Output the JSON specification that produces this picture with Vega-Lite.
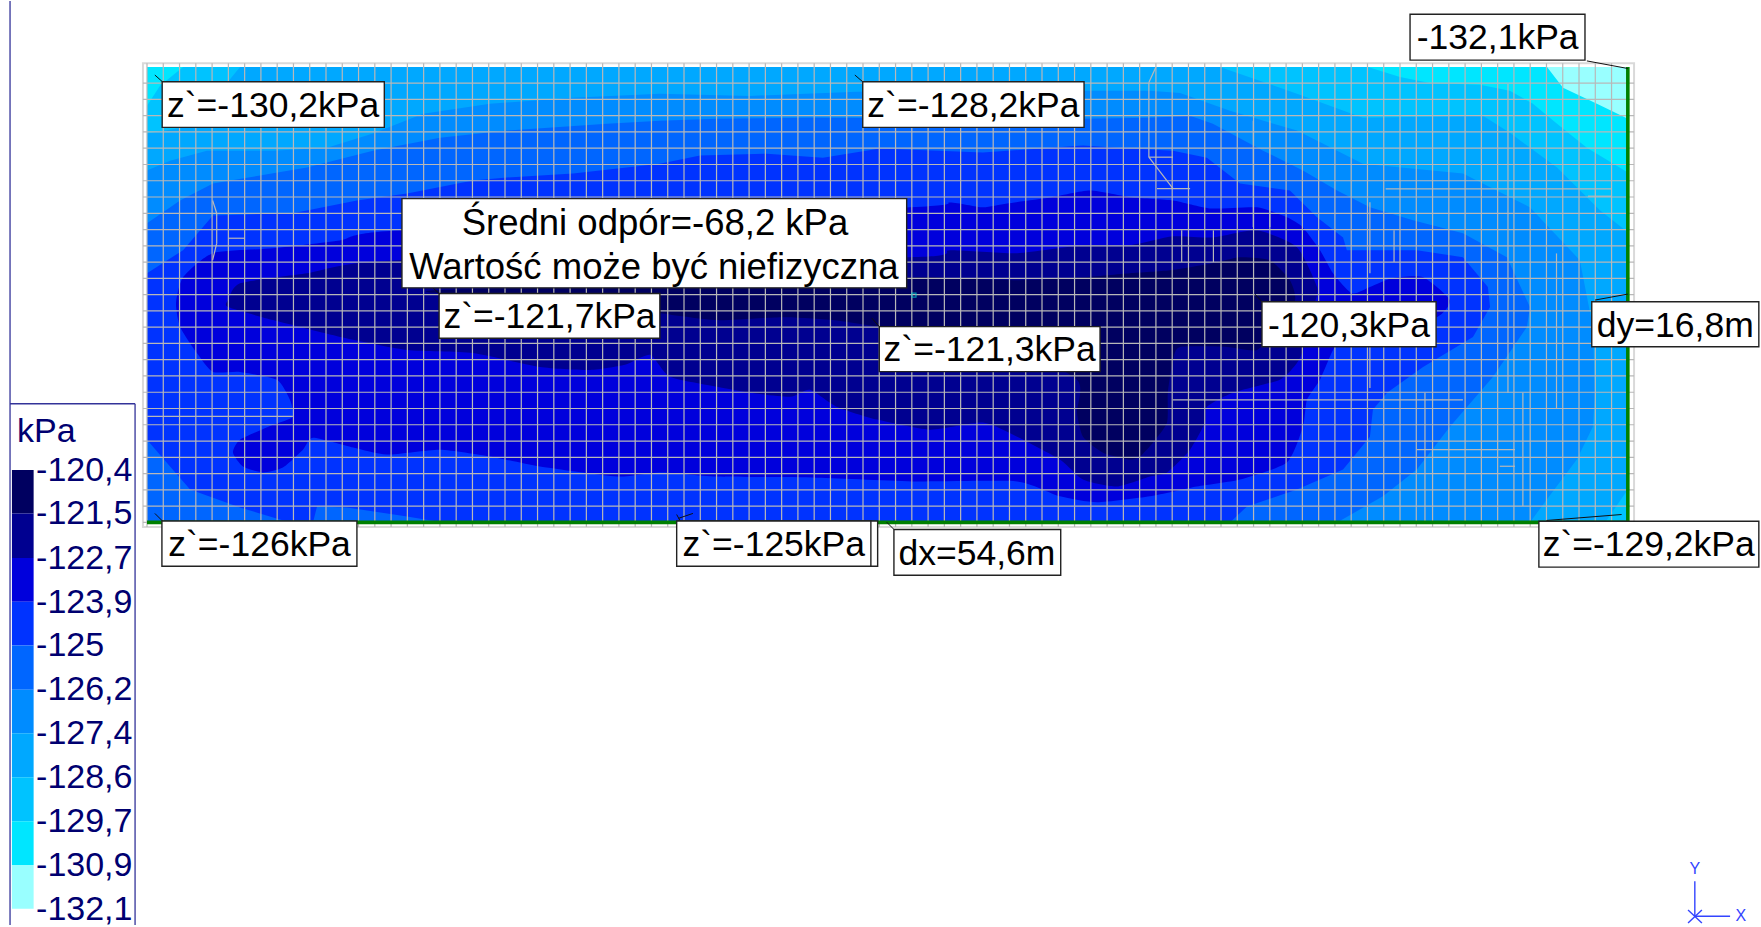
{
"$schema":"https://vega.github.io/schema/vega-lite/v6.json",
"width":1761,"height":927,"padding":0,
"autosize":{"type":"fit","contains":"padding"},
"background":"white",
"config":{"view":{"stroke":null}},
"datasets":{
"bands":[
{"band":"9","x":0,"y":0},{"band":"9","x":54.6,"y":0},{"band":"9","x":54.6,"y":16.8},{"band":"9","x":0,"y":16.8},
{"band":"8","x":0,"y":15.37},{"band":"8","x":0.48,"y":16.1},{"band":"8","x":1.33,"y":16.8},{"band":"8","x":45.02,"y":16.8},{"band":"8","x":46.2,"y":16.43},{"band":"8","x":47.3,"y":16.21},{"band":"8","x":49.15,"y":16.14},{"band":"8","x":50.25,"y":15.92},{"band":"8","x":51.1,"y":15.44},{"band":"8","x":51.99,"y":14.7},{"band":"8","x":53.09,"y":13.82},{"band":"8","x":54.6,"y":12.9},{"band":"8","x":54.6,"y":0},{"band":"8","x":0,"y":0},
{"band":"10","x":51.62,"y":16.8},{"band":"10","x":52.21,"y":16.03},{"band":"10","x":53.46,"y":15.44},{"band":"10","x":54.6,"y":14.89},{"band":"10","x":54.6,"y":16.8},
{"band":"7","x":0,"y":14.34},{"band":"7","x":1.33,"y":14.56},{"band":"7","x":2.32,"y":15.44},{"band":"7","x":3.43,"y":16.8},{"band":"7","x":39.56,"y":16.8},{"band":"7","x":42.4,"y":15.81},{"band":"7","x":44.83,"y":14.92},{"band":"7","x":49.26,"y":15},{"band":"7","x":50.25,"y":14.37},{"band":"7","x":51.99,"y":13.09},{"band":"7","x":53.57,"y":11.51},{"band":"7","x":54.6,"y":10.7},{"band":"7","x":54.6,"y":1.21},{"band":"7","x":53.76,"y":0},{"band":"7","x":0,"y":0},
{"band":"6","x":0,"y":12.98},{"band":"6","x":0.85,"y":13.34},{"band":"6","x":2.21,"y":13.71},{"band":"6","x":4.65,"y":13.71},{"band":"6","x":6.64,"y":13.82},{"band":"6","x":8.33,"y":14.34},{"band":"6","x":10.18,"y":15.07},{"band":"6","x":12.65,"y":15.44},{"band":"6","x":15.71,"y":15.66},{"band":"6","x":18.91,"y":15.81},{"band":"6","x":22.23,"y":15.73},{"band":"6","x":26.18,"y":15.88},{"band":"6","x":34.51,"y":15.92},{"band":"6","x":36.98,"y":15.92},{"band":"6","x":38.09,"y":15.84},{"band":"6","x":39.93,"y":15.18},{"band":"6","x":42.4,"y":14.45},{"band":"6","x":44.83,"y":13.23},{"band":"6","x":48.52,"y":12.87},{"band":"6","x":50.99,"y":11.62},{"band":"6","x":52.83,"y":9.67},{"band":"6","x":53.31,"y":7.21},{"band":"6","x":53.39,"y":4.78},{"band":"6","x":53.31,"y":3.53},{"band":"6","x":52.72,"y":2.32},{"band":"6","x":51.62,"y":0.85},{"band":"6","x":50.99,"y":0},{"band":"6","x":0,"y":0},
{"band":"5","x":0,"y":11.03},{"band":"5","x":1.22,"y":11.87},{"band":"5","x":2.43,"y":12.5},{"band":"5","x":5.9,"y":13.09},{"band":"5","x":8.33,"y":13.71},{"band":"5","x":10.8,"y":14.19},{"band":"5","x":13.27,"y":14.45},{"band":"5","x":16.96,"y":14.7},{"band":"5","x":18.91,"y":14.81},{"band":"5","x":21.02,"y":14.89},{"band":"5","x":24.44,"y":14.92},{"band":"5","x":34.51,"y":14.89},{"band":"5","x":36.98,"y":14.92},{"band":"5","x":38.46,"y":15},{"band":"5","x":39.3,"y":14.7},{"band":"5","x":41.15,"y":13.71},{"band":"5","x":42.62,"y":12.98},{"band":"5","x":43.88,"y":12.24},{"band":"5","x":45.09,"y":11.62},{"band":"5","x":46.68,"y":11.14},{"band":"5","x":48.52,"y":10.66},{"band":"5","x":50.14,"y":9.78},{"band":"5","x":50.99,"y":7.94},{"band":"5","x":50.88,"y":7.21},{"band":"5","x":49.63,"y":5.37},{"band":"5","x":48.04,"y":3.53},{"band":"5","x":46.82,"y":1.95},{"band":"5","x":45.57,"y":0.96},{"band":"5","x":43.88,"y":0},{"band":"5","x":0,"y":0},
{"band":"4","x":0,"y":9.19},{"band":"4","x":1.33,"y":10.04},{"band":"4","x":2.43,"y":11.32},{"band":"4","x":5.38,"y":11.4},{"band":"4","x":7.74,"y":11.87},{"band":"4","x":9.59,"y":12.13},{"band":"4","x":12.02,"y":12.61},{"band":"4","x":13.27,"y":12.72},{"band":"4","x":15.71,"y":12.87},{"band":"4","x":18.91,"y":13.23},{"band":"4","x":20.39,"y":13.53},{"band":"4","x":22.86,"y":13.6},{"band":"4","x":24.92,"y":13.45},{"band":"4","x":27.03,"y":13.79},{"band":"4","x":30.82,"y":13.64},{"band":"4","x":34.51,"y":13.9},{"band":"4","x":35.76,"y":13.82},{"band":"4","x":37.83,"y":13.71},{"band":"4","x":39.08,"y":13.45},{"band":"4","x":40.3,"y":12.5},{"band":"4","x":42.14,"y":12.24},{"band":"4","x":43.14,"y":11.25},{"band":"4","x":44.1,"y":10.51},{"band":"4","x":44.24,"y":10.04},{"band":"4","x":46.82,"y":10.04},{"band":"4","x":48.52,"y":9.78},{"band":"4","x":49.44,"y":8.68},{"band":"4","x":49.52,"y":7.94},{"band":"4","x":48.89,"y":6.84},{"band":"4","x":47.05,"y":5.73},{"band":"4","x":45.72,"y":4.78},{"band":"4","x":45.2,"y":4.15},{"band":"4","x":45.09,"y":3.16},{"band":"4","x":44.1,"y":1.95},{"band":"4","x":42.4,"y":1.21},{"band":"4","x":40.56,"y":0.59},{"band":"4","x":39.93,"y":0},{"band":"4","x":10.91,"y":0},{"band":"4","x":9.59,"y":0.22},{"band":"4","x":7.37,"y":0.55},{"band":"4","x":6.27,"y":0.59},{"band":"4","x":6.12,"y":0},{"band":"4","x":5.27,"y":0},{"band":"4","x":3.43,"y":0.55},{"band":"4","x":1.59,"y":1.21},{"band":"4","x":0.85,"y":2.06},{"band":"4","x":0,"y":3.05},
{"band":"3","x":1.33,"y":9.04},{"band":"3","x":1.07,"y":8.09},{"band":"3","x":1.22,"y":7.21},{"band":"3","x":1.84,"y":6.25},{"band":"3","x":2.43,"y":5.55},{"band":"3","x":3.43,"y":5.55},{"band":"3","x":4.79,"y":5.26},{"band":"3","x":5.27,"y":4.52},{"band":"3","x":5.38,"y":3.9},{"band":"3","x":4.65,"y":3.6},{"band":"3","x":3.43,"y":3.05},{"band":"3","x":3.17,"y":2.57},{"band":"3","x":3.54,"y":2.06},{"band":"3","x":4.28,"y":1.84},{"band":"3","x":5.01,"y":2.02},{"band":"3","x":5.75,"y":2.68},{"band":"3","x":6.12,"y":3.12},{"band":"3","x":7.6,"y":2.76},{"band":"3","x":8.85,"y":2.5},{"band":"3","x":10.8,"y":2.68},{"band":"3","x":12.65,"y":2.43},{"band":"3","x":14.49,"y":2.06},{"band":"3","x":17.33,"y":1.69},{"band":"3","x":18.91,"y":1.84},{"band":"3","x":21.02,"y":1.69},{"band":"3","x":24.7,"y":1.65},{"band":"3","x":28.39,"y":1.51},{"band":"3","x":32.08,"y":1.51},{"band":"3","x":33.66,"y":0.96},{"band":"3","x":35.03,"y":0.74},{"band":"3","x":36.98,"y":0.96},{"band":"3","x":38.71,"y":1.32},{"band":"3","x":40.3,"y":1.58},{"band":"3","x":42.03,"y":2.21},{"band":"3","x":42.62,"y":3.53},{"band":"3","x":42.77,"y":4.52},{"band":"3","x":43.25,"y":5.26},{"band":"3","x":43.73,"y":6.36},{"band":"3","x":44.1,"y":6.73},{"band":"3","x":45.72,"y":7.21},{"band":"3","x":47.56,"y":7.57},{"band":"3","x":48.04,"y":8.2},{"band":"3","x":47.05,"y":9.04},{"band":"3","x":45.94,"y":9.01},{"band":"3","x":45.09,"y":8.68},{"band":"3","x":44.43,"y":8.45},{"band":"3","x":43.73,"y":9.19},{"band":"3","x":43.25,"y":10.04},{"band":"3","x":42.62,"y":10.88},{"band":"3","x":42.03,"y":11.25},{"band":"3","x":40.93,"y":11.62},{"band":"3","x":39.19,"y":11.58},{"band":"3","x":37.83,"y":11.87},{"band":"3","x":36.35,"y":11.98},{"band":"3","x":34.77,"y":12.24},{"band":"3","x":33.29,"y":11.98},{"band":"3","x":31.71,"y":11.76},{"band":"3","x":30.82,"y":11.62},{"band":"3","x":29.61,"y":11.8},{"band":"3","x":28.13,"y":11.62},{"band":"3","x":9.33,"y":10.77},{"band":"3","x":7.12,"y":10.4},{"band":"3","x":4.65,"y":10.11},{"band":"3","x":2.43,"y":9.93},
{"band":"2","x":2.99,"y":8.2},{"band":"2","x":3.43,"y":8.82},{"band":"2","x":5.9,"y":9.19},{"band":"2","x":9.33,"y":9.67},{"band":"2","x":28.13,"y":9.78},{"band":"2","x":29.61,"y":10.04},{"band":"2","x":32.08,"y":9.93},{"band":"2","x":34.51,"y":10.22},{"band":"2","x":36.24,"y":10.22},{"band":"2","x":37.83,"y":10.55},{"band":"2","x":39.3,"y":10.51},{"band":"2","x":40.93,"y":10.77},{"band":"2","x":42.4,"y":10.15},{"band":"2","x":43.14,"y":8.68},{"band":"2","x":43.06,"y":8.09},{"band":"2","x":42.62,"y":6.36},{"band":"2","x":42.4,"y":5.88},{"band":"2","x":41.77,"y":5.26},{"band":"2","x":40.04,"y":4.78},{"band":"2","x":39.08,"y":4.26},{"band":"2","x":39.01,"y":3.68},{"band":"2","x":38.46,"y":2.68},{"band":"2","x":37.61,"y":1.84},{"band":"2","x":36.98,"y":1.69},{"band":"2","x":35.76,"y":1.32},{"band":"2","x":34.51,"y":1.58},{"band":"2","x":33.66,"y":2.32},{"band":"2","x":32.08,"y":3.16},{"band":"2","x":30.82,"y":3.68},{"band":"2","x":28.87,"y":3.42},{"band":"2","x":26.92,"y":3.79},{"band":"2","x":25.44,"y":4.26},{"band":"2","x":24.44,"y":4.89},{"band":"2","x":23.71,"y":4.63},{"band":"2","x":22.23,"y":4.78},{"band":"2","x":21.02,"y":5},{"band":"2","x":19.28,"y":5.37},{"band":"2","x":18.55,"y":6.18},{"band":"2","x":17.62,"y":5.81},{"band":"2","x":16.33,"y":5.62},{"band":"2","x":14.49,"y":5.73},{"band":"2","x":12.02,"y":6.25},{"band":"2","x":9.59,"y":6.36},{"band":"2","x":7.12,"y":6.84},{"band":"2","x":4.65,"y":7.46},{"band":"2","x":2.99,"y":7.94},
{"band":"1","x":10.8,"y":8.57},{"band":"1","x":18.55,"y":8.75},{"band":"1","x":28.24,"y":9.04},{"band":"1","x":29.61,"y":9.01},{"band":"1","x":32.08,"y":8.93},{"band":"1","x":34.51,"y":9.04},{"band":"1","x":36.24,"y":9.19},{"band":"1","x":37.72,"y":9.3},{"band":"1","x":39.3,"y":9.56},{"band":"1","x":40.3,"y":9.78},{"band":"1","x":41.4,"y":9.67},{"band":"1","x":42.14,"y":8.93},{"band":"1","x":42.33,"y":8.2},{"band":"1","x":41.66,"y":7.21},{"band":"1","x":40.93,"y":6.36},{"band":"1","x":39.82,"y":6.47},{"band":"1","x":38.09,"y":6.47},{"band":"1","x":37.83,"y":5.99},{"band":"1","x":37.64,"y":4.78},{"band":"1","x":37.61,"y":3.68},{"band":"1","x":37.09,"y":2.94},{"band":"1","x":36.61,"y":2.43},{"band":"1","x":36.24,"y":2.32},{"band":"1","x":35.25,"y":2.57},{"band":"1","x":34.51,"y":3.16},{"band":"1","x":34.29,"y":4.04},{"band":"1","x":34.29,"y":5.26},{"band":"1","x":31.45,"y":6.73},{"band":"1","x":27.03,"y":7.21},{"band":"1","x":25.29,"y":7.46},{"band":"1","x":23.45,"y":7.57},{"band":"1","x":21.02,"y":7.46},{"band":"1","x":18.91,"y":7.72},{"band":"1","x":16.7,"y":8.2},{"band":"1","x":10.8,"y":8.45}
],
"grid":[
{"x":0,"x2":0,"y":-0.17,"y2":16.93},{"x":0.6,"x2":0.6,"y":-0.17,"y2":16.93},{"x":1.2,"x2":1.2,"y":-0.17,"y2":16.93},{"x":1.8,"x2":1.8,"y":-0.17,"y2":16.93},{"x":2.4,"x2":2.4,"y":-0.17,"y2":16.93},{"x":3,"x2":3,"y":-0.17,"y2":16.93},{"x":3.6,"x2":3.6,"y":-0.17,"y2":16.93},{"x":4.2,"x2":4.2,"y":-0.17,"y2":16.93},{"x":4.8,"x2":4.8,"y":-0.17,"y2":16.93},{"x":5.4,"x2":5.4,"y":-0.17,"y2":16.93},{"x":6,"x2":6,"y":-0.17,"y2":16.93},{"x":6.6,"x2":6.6,"y":-0.17,"y2":16.93},{"x":7.2,"x2":7.2,"y":-0.17,"y2":16.93},{"x":7.8,"x2":7.8,"y":-0.17,"y2":16.93},{"x":8.4,"x2":8.4,"y":-0.17,"y2":16.93},{"x":9,"x2":9,"y":-0.17,"y2":16.93},{"x":9.6,"x2":9.6,"y":-0.17,"y2":16.93},{"x":10.2,"x2":10.2,"y":-0.17,"y2":16.93},{"x":10.8,"x2":10.8,"y":-0.17,"y2":16.93},{"x":11.4,"x2":11.4,"y":-0.17,"y2":16.93},{"x":12,"x2":12,"y":-0.17,"y2":16.93},{"x":12.6,"x2":12.6,"y":-0.17,"y2":16.93},{"x":13.2,"x2":13.2,"y":-0.17,"y2":16.93},{"x":13.8,"x2":13.8,"y":-0.17,"y2":16.93},{"x":14.4,"x2":14.4,"y":-0.17,"y2":16.93},{"x":15,"x2":15,"y":-0.17,"y2":16.93},{"x":15.6,"x2":15.6,"y":-0.17,"y2":16.93},{"x":16.2,"x2":16.2,"y":-0.17,"y2":16.93},{"x":16.8,"x2":16.8,"y":-0.17,"y2":16.93},{"x":17.4,"x2":17.4,"y":-0.17,"y2":16.93},{"x":18,"x2":18,"y":-0.17,"y2":16.93},{"x":18.6,"x2":18.6,"y":-0.17,"y2":16.93},{"x":19.2,"x2":19.2,"y":-0.17,"y2":16.93},{"x":19.8,"x2":19.8,"y":-0.17,"y2":16.93},{"x":20.4,"x2":20.4,"y":-0.17,"y2":16.93},{"x":21,"x2":21,"y":-0.17,"y2":16.93},{"x":21.6,"x2":21.6,"y":-0.17,"y2":16.93},{"x":22.2,"x2":22.2,"y":-0.17,"y2":16.93},{"x":22.8,"x2":22.8,"y":-0.17,"y2":16.93},{"x":23.4,"x2":23.4,"y":-0.17,"y2":16.93},{"x":24,"x2":24,"y":-0.17,"y2":16.93},{"x":24.6,"x2":24.6,"y":-0.17,"y2":16.93},{"x":25.2,"x2":25.2,"y":-0.17,"y2":16.93},{"x":25.8,"x2":25.8,"y":-0.17,"y2":16.93},{"x":26.4,"x2":26.4,"y":-0.17,"y2":16.93},{"x":27,"x2":27,"y":-0.17,"y2":16.93},{"x":27.6,"x2":27.6,"y":-0.17,"y2":16.93},{"x":28.2,"x2":28.2,"y":-0.17,"y2":16.93},{"x":28.8,"x2":28.8,"y":-0.17,"y2":16.93},{"x":29.4,"x2":29.4,"y":-0.17,"y2":16.93},{"x":30,"x2":30,"y":-0.17,"y2":16.93},{"x":30.6,"x2":30.6,"y":-0.17,"y2":16.93},{"x":31.2,"x2":31.2,"y":-0.17,"y2":16.93},{"x":31.8,"x2":31.8,"y":-0.17,"y2":16.93},{"x":32.4,"x2":32.4,"y":-0.17,"y2":16.93},{"x":33,"x2":33,"y":-0.17,"y2":16.93},{"x":33.6,"x2":33.6,"y":-0.17,"y2":16.93},{"x":34.2,"x2":34.2,"y":-0.17,"y2":16.93},{"x":34.8,"x2":34.8,"y":-0.17,"y2":16.93},{"x":35.4,"x2":35.4,"y":-0.17,"y2":16.93},{"x":36,"x2":36,"y":-0.17,"y2":16.93},{"x":36.6,"x2":36.6,"y":-0.17,"y2":16.93},{"x":37.2,"x2":37.2,"y":-0.17,"y2":16.93},{"x":37.8,"x2":37.8,"y":-0.17,"y2":16.93},{"x":38.4,"x2":38.4,"y":-0.17,"y2":16.93},{"x":39,"x2":39,"y":-0.17,"y2":16.93},{"x":39.6,"x2":39.6,"y":-0.17,"y2":16.93},{"x":40.2,"x2":40.2,"y":-0.17,"y2":16.93},{"x":40.8,"x2":40.8,"y":-0.17,"y2":16.93},{"x":41.4,"x2":41.4,"y":-0.17,"y2":16.93},{"x":42,"x2":42,"y":-0.17,"y2":16.93},{"x":42.6,"x2":42.6,"y":-0.17,"y2":16.93},{"x":43.2,"x2":43.2,"y":-0.17,"y2":16.93},{"x":43.8,"x2":43.8,"y":-0.17,"y2":16.93},{"x":44.4,"x2":44.4,"y":-0.17,"y2":16.93},{"x":45,"x2":45,"y":-0.17,"y2":16.93},{"x":45.6,"x2":45.6,"y":-0.17,"y2":16.93},{"x":46.2,"x2":46.2,"y":-0.17,"y2":16.93},{"x":46.8,"x2":46.8,"y":-0.17,"y2":16.93},{"x":47.4,"x2":47.4,"y":-0.17,"y2":16.93},{"x":48,"x2":48,"y":-0.17,"y2":16.93},{"x":48.6,"x2":48.6,"y":-0.17,"y2":16.93},{"x":49.2,"x2":49.2,"y":-0.17,"y2":16.93},{"x":49.8,"x2":49.8,"y":-0.17,"y2":16.93},{"x":50.4,"x2":50.4,"y":-0.17,"y2":16.93},{"x":51,"x2":51,"y":-0.17,"y2":16.93},{"x":51.6,"x2":51.6,"y":-0.17,"y2":16.93},{"x":52.2,"x2":52.2,"y":-0.17,"y2":16.93},{"x":52.8,"x2":52.8,"y":-0.17,"y2":16.93},{"x":53.4,"x2":53.4,"y":-0.17,"y2":16.93},{"x":54,"x2":54,"y":-0.17,"y2":16.93},
{"x":-0.15,"x2":54.83,"y":0,"y2":0},{"x":-0.15,"x2":54.83,"y":0.6,"y2":0.6},{"x":-0.15,"x2":54.83,"y":1.2,"y2":1.2},{"x":-0.15,"x2":54.83,"y":1.8,"y2":1.8},{"x":-0.15,"x2":54.83,"y":2.4,"y2":2.4},{"x":-0.15,"x2":54.83,"y":3,"y2":3},{"x":-0.15,"x2":54.83,"y":3.6,"y2":3.6},{"x":-0.15,"x2":54.83,"y":4.2,"y2":4.2},{"x":-0.15,"x2":54.83,"y":4.8,"y2":4.8},{"x":-0.15,"x2":54.83,"y":5.4,"y2":5.4},{"x":-0.15,"x2":54.83,"y":6,"y2":6},{"x":-0.15,"x2":54.83,"y":6.6,"y2":6.6},{"x":-0.15,"x2":54.83,"y":7.2,"y2":7.2},{"x":-0.15,"x2":54.83,"y":7.8,"y2":7.8},{"x":-0.15,"x2":54.83,"y":8.4,"y2":8.4},{"x":-0.15,"x2":54.83,"y":9,"y2":9},{"x":-0.15,"x2":54.83,"y":9.6,"y2":9.6},{"x":-0.15,"x2":54.83,"y":10.2,"y2":10.2},{"x":-0.15,"x2":54.83,"y":10.8,"y2":10.8},{"x":-0.15,"x2":54.83,"y":11.4,"y2":11.4},{"x":-0.15,"x2":54.83,"y":12,"y2":12},{"x":-0.15,"x2":54.83,"y":12.6,"y2":12.6},{"x":-0.15,"x2":54.83,"y":13.2,"y2":13.2},{"x":-0.15,"x2":54.83,"y":13.8,"y2":13.8},{"x":-0.15,"x2":54.83,"y":14.4,"y2":14.4},{"x":-0.15,"x2":54.83,"y":15,"y2":15},{"x":-0.15,"x2":54.83,"y":15.6,"y2":15.6},{"x":-0.15,"x2":54.83,"y":16.2,"y2":16.2},
{"x":2.42,"x2":2.57,"y":11.87,"y2":11.4},{"x":2.57,"x2":2.57,"y":11.4,"y2":10.29},{"x":2.57,"x2":2.42,"y":10.29,"y2":9.67},{"x":2.99,"x2":3.61,"y":10.48,"y2":10.48},{"x":0,"x2":5.38,"y":3.91,"y2":3.91},
{"x":37.2,"x2":36.94,"y":16.8,"y2":16.22},{"x":36.94,"x2":36.94,"y":16.22,"y2":13.47},{"x":36.94,"x2":37.83,"y":13.47,"y2":12.31},{"x":36.94,"x2":37.83,"y":13.47,"y2":13.47},{"x":37.24,"x2":38.46,"y":12.31,"y2":12.31},
{"x":40.79,"x2":40.79,"y":14.81,"y2":10.89},{"x":41.4,"x2":41.4,"y":14.81,"y2":10.89},{"x":38.15,"x2":38.15,"y":10.77,"y2":9.6},{"x":39.32,"x2":39.32,"y":10.77,"y2":9.6},{"x":45.09,"x2":45.09,"y":11.81,"y2":9.19},{"x":45.09,"x2":45.09,"y":6.48,"y2":4.96},{"x":45.98,"x2":45.98,"y":10.77,"y2":9.6},
{"x":45.67,"x2":54,"y":12.3,"y2":12.3},{"x":53.13,"x2":54,"y":12.03,"y2":12.03},{"x":50.18,"x2":50.18,"y":16.17,"y2":4.78},{"x":51.97,"x2":51.97,"y":9.92,"y2":4.22},{"x":37.83,"x2":48.52,"y":4.52,"y2":4.52},{"x":47.12,"x2":47.12,"y":4.78,"y2":0},{"x":50.73,"x2":50.73,"y":4.78,"y2":0.6},{"x":46.82,"x2":50.44,"y":2.68,"y2":2.68},{"x":49.88,"x2":50.44,"y":2.07,"y2":2.07}
],
"edges":[{"x":0,"x2":54.6,"y":0,"y2":0},{"x":54.6,"x2":54.6,"y":0,"y2":16.8}],
"frame":[{"x":-0.15,"x2":54.83,"y":-0.17,"y2":16.93}],
"boxes":[
{"x":19.6,"x2":26.94,"y":0.05,"y2":-1.62},
{"x":0.56,"x2":8.75,"y":16.25,"y2":14.57},{"x":26.39,"x2":34.55,"y":16.25,"y2":14.57},{"x":9.4,"x2":28.01,"y":11.94,"y2":8.65},{"x":10.77,"x2":18.91,"y":8.44,"y2":6.79},{"x":27,"x2":35.14,"y":7.22,"y2":5.56},{"x":41.11,"x2":47.53,"y":8.14,"y2":6.48},{"x":53.27,"x2":59.43,"y":8.14,"y2":6.48},{"x":46.57,"x2":53.02,"y":18.74,"y2":17.05},{"x":0.55,"x2":7.74,"y":0.05,"y2":-1.62},{"x":19.53,"x2":26.69,"y":0.05,"y2":-1.62},{"x":27.54,"x2":33.69,"y":-0.26,"y2":-1.95},{"x":51.32,"x2":59.43,"y":0.04,"y2":-1.65}
],
"leaders":[
{"x":0.29,"x2":0.57,"y":16.5,"y2":16.25},{"x":26.1,"x2":26.39,"y":16.5,"y2":16.25},{"x":0.29,"x2":0.57,"y":0.33,"y2":0.05},{"x":19.53,"x2":19.66,"y":0.29,"y2":0.05},{"x":20.13,"x2":19.6,"y":0.33,"y2":0.15},{"x":27.27,"x2":27.54,"y":0.01,"y2":-0.26},{"x":51.6,"x2":54.37,"y":0.07,"y2":0.29},{"x":53.39,"x2":54.6,"y":8.2,"y2":8.42},{"x":53.09,"x2":54.6,"y":17.02,"y2":16.74},{"x":40.85,"x2":41.11,"y":8.42,"y2":8.14},{"x":26.72,"x2":27,"y":7.54,"y2":7.22},{"x":10.5,"x2":10.77,"y":8.69,"y2":8.44}
],
"labels":[
{"text":"z`=-130,2kPa","x":4.65,"y":15.36},{"text":"z`=-128,2kPa","x":30.47,"y":15.36},{"text":"z`=-121,7kPa","x":14.84,"y":7.57},{"text":"z`=-121,3kPa","x":31.07,"y":6.34},{"text":"-120,3kPa","x":44.32,"y":7.26},{"text":"dy=16,8m","x":56.35,"y":7.26},{"text":"-132,1kPa","x":49.8,"y":17.85},{"text":"z`=-126kPa","x":4.15,"y":-0.84},{"text":"z`=-125kPa","x":23.11,"y":-0.84},{"text":"dx=54,6m","x":30.6,"y":-1.15},{"text":"z`=-129,2kPa","x":55.37,"y":-0.85}
],
"note":[{"text":"Średni odpór=-68,2 kPa","x":18.73,"y":11.0},{"text":"Wartość może być niefizyczna","x":18.69,"y":9.39}],
"legendBands":[
{"band":"1","x":-4.98,"x2":-4.18,"y":1.93,"y2":0.33},{"band":"2","x":-4.98,"x2":-4.18,"y":0.33,"y2":-1.31},{"band":"3","x":-4.98,"x2":-4.18,"y":-1.31,"y2":-2.93},{"band":"4","x":-4.98,"x2":-4.18,"y":-2.93,"y2":-4.54},{"band":"5","x":-4.98,"x2":-4.18,"y":-4.54,"y2":-6.17},{"band":"6","x":-4.98,"x2":-4.18,"y":-6.17,"y2":-7.78},{"band":"7","x":-4.98,"x2":-4.18,"y":-7.78,"y2":-9.4},{"band":"8","x":-4.98,"x2":-4.18,"y":-9.4,"y2":-11.02},{"band":"9","x":-4.98,"x2":-4.18,"y":-11.02,"y2":-12.64},{"band":"10","x":-4.98,"x2":-4.18,"y":-12.64,"y2":-14.25}
],
"legendText":[
{"text":"kPa","x":-4.79,"y":3.35},{"text":"-120,4","x":-4.09,"y":1.9},{"text":"-121,5","x":-4.09,"y":0.3},{"text":"-122,7","x":-4.09,"y":-1.34},{"text":"-123,9","x":-4.09,"y":-2.96},{"text":"-125","x":-4.09,"y":-4.57},{"text":"-126,2","x":-4.09,"y":-6.2},{"text":"-127,4","x":-4.09,"y":-7.81},{"text":"-128,6","x":-4.09,"y":-9.43},{"text":"-129,7","x":-4.09,"y":-11.05},{"text":"-130,9","x":-4.09,"y":-12.67},{"text":"-132,1","x":-4.09,"y":-14.28}
],
"legendFrame":[
{"x":-5.05,"x2":-5.05,"y":19.23,"y2":-14.85},{"x":-5.05,"x2":-0.44,"y":4.375,"y2":4.375},{"x":-0.44,"x2":-0.44,"y":4.375,"y2":-14.85}
],
"triad":[
{"x":57.07,"x2":57.07,"y":-13.24,"y2":-14.53},{"x":57.07,"x2":58.37,"y":-14.53,"y2":-14.53},{"x":56.82,"x2":57.33,"y":-14.3,"y2":-14.78},{"x":56.82,"x2":57.33,"y":-14.78,"y2":-14.3}
],
"triadText":[{"text":"Y","x":57.07,"y":-12.79},{"text":"X","x":58.77,"y":-14.53}],
"marker":[{"x":28.28,"y":8.38}]
},
"encoding":{
"x":{"field":"x","type":"quantitative","scale":{"domain":[-5.42,59.51],"nice":false,"zero":false},"axis":null},
"y":{"field":"y","type":"quantitative","scale":{"domain":[-14.85,19.23],"nice":false,"zero":false},"axis":null}
},
"layer":[
{"data":{"name":"bands"},"transform":[{"filter":{"not":{"field":"band","oneOf":["1","2","3"]}}}],"mark":{"type":"line","stroke":"transparent","strokeWidth":0,"interpolate":"linear"},
"encoding":{"fill":{"field":"band","type":"nominal","legend":null,"scale":{"domain":["1","2","3","4","5","6","7","8","9","10"],"range":["#000060","#000090","#0000dc","#0033ff","#0066ff","#008cff","#00a8ff","#00c3ff","#00e6ff","#99ffff"]}},"order":{"value":null}}},
{"data":{"name":"bands"},"transform":[{"filter":{"field":"band","oneOf":["1","2","3"]}}],"mark":{"type":"line","stroke":"transparent","strokeWidth":0,"interpolate":"cardinal-closed","tension":0.4},
"encoding":{"fill":{"field":"band","type":"nominal","legend":null},"order":{"value":null}}},
{"data":{"name":"frame"},"mark":{"type":"rect","fillOpacity":0,"stroke":"#d9d9d9","strokeWidth":2},"encoding":{"x2":{"field":"x2"},"y2":{"field":"y2"}}},
{"data":{"name":"grid"},"mark":{"type":"rule","stroke":"#b8b8b8","strokeWidth":1.2},"encoding":{"x2":{"field":"x2"},"y2":{"field":"y2"}}},
{"data":{"name":"edges"},"mark":{"type":"rule","stroke":"#008000","strokeWidth":3.6},"encoding":{"x2":{"field":"x2"},"y2":{"field":"y2"}}},
{"data":{"name":"leaders"},"mark":{"type":"rule","stroke":"#111111","strokeWidth":1},"encoding":{"x2":{"field":"x2"},"y2":{"field":"y2"}}},
{"data":{"name":"marker"},"mark":{"type":"point","shape":"square","size":16,"stroke":"#00d0d0","strokeWidth":1.2,"filled":false}},
{"data":{"name":"boxes"},"mark":{"type":"rect","fill":"white","stroke":"#222222","strokeWidth":1.4},"encoding":{"x2":{"field":"x2"},"y2":{"field":"y2"}}},
{"data":{"name":"labels"},"mark":{"type":"text","font":"Liberation Sans","fontSize":35.5,"fill":"#000000","align":"center","baseline":"middle"},"encoding":{"text":{"field":"text"}}},
{"data":{"name":"note"},"mark":{"type":"text","font":"Liberation Sans","fontSize":36.5,"fill":"#000000","align":"center","baseline":"middle"},"encoding":{"text":{"field":"text"}}},
{"data":{"name":"legendFrame"},"mark":{"type":"rule","stroke":"#333399","strokeWidth":1.3},"encoding":{"x2":{"field":"x2"},"y2":{"field":"y2"}}},
{"data":{"name":"legendBands"},"mark":{"type":"rect"},"encoding":{"x2":{"field":"x2"},"y2":{"field":"y2"},"fill":{"field":"band","type":"nominal","legend":null}}},
{"data":{"name":"legendText"},"mark":{"type":"text","font":"Liberation Sans","fontSize":34,"fill":"#000070","align":"left","baseline":"middle"},"encoding":{"text":{"field":"text"}}},
{"data":{"name":"triad"},"mark":{"type":"rule","stroke":"#3344ff","strokeWidth":1.4},"encoding":{"x2":{"field":"x2"},"y2":{"field":"y2"}}},
{"data":{"name":"triadText"},"mark":{"type":"text","font":"Liberation Sans","fontSize":16,"fill":"#3344ff","align":"center","baseline":"middle"},"encoding":{"text":{"field":"text"}}}
]
}
